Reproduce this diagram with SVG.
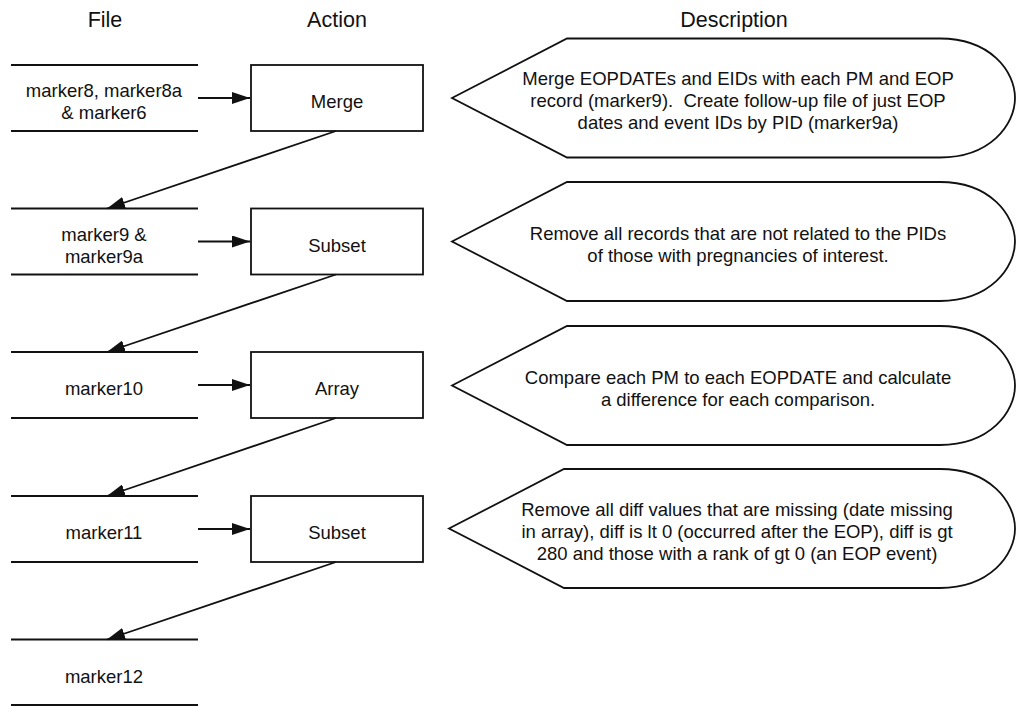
<svg xmlns="http://www.w3.org/2000/svg" width="1016" height="706" viewBox="0 0 1016 706">
  <style>
    .t { font-family: "Liberation Sans", Arial, Helvetica, sans-serif; font-size: 18.5px; fill: #111; text-anchor: middle; }
    .h { font-family: "Liberation Sans", Arial, Helvetica, sans-serif; font-size: 21.5px; fill: #111; text-anchor: middle; }
    .ln { stroke: #111; stroke-width: 1.8; fill: none; }
    .box { stroke: #111; stroke-width: 1.8; fill: #fff; }
  </style>
  <defs>
    <marker id="arrow" markerUnits="userSpaceOnUse" markerWidth="19" markerHeight="12" refX="18" refY="6" orient="auto">
      <path d="M0,0 L18,6 L0,12 z" fill="#111"/>
    </marker>
  </defs>
  <rect width="1016" height="706" fill="#fff"/>

  <!-- column headings -->
  <g id="headings">
    <text class="h" x="105" y="27">File</text>
    <text class="h" x="337" y="27">Action</text>
    <text class="h" x="734" y="27">Description</text>
  </g>

  <!-- data files (open-ended store symbols) -->
  <g id="file-marker8">
    <path class="ln" d="M11,65 H198 M11,131 H198"/>
    <text class="t" x="104" y="97">marker8, marker8a</text>
    <text class="t" x="104" y="119">&amp; marker6</text>
  </g>
  <g id="file-marker9">
    <path class="ln" d="M11,208.5 H198 M11,274.5 H198"/>
    <text class="t" x="104" y="240.5">marker9 &amp;</text>
    <text class="t" x="104" y="262.5">marker9a</text>
  </g>
  <g id="file-marker10">
    <path class="ln" d="M11,352 H198 M11,418 H198"/>
    <text class="t" x="104" y="395">marker10</text>
  </g>
  <g id="file-marker11">
    <path class="ln" d="M11,496 H198 M11,562 H198"/>
    <text class="t" x="104" y="539">marker11</text>
  </g>
  <g id="file-marker12">
    <path class="ln" d="M11,639.5 H198 M11,705 H198"/>
    <text class="t" x="104" y="682.5">marker12</text>
  </g>

  <!-- actions -->
  <g id="action-merge">
    <rect class="box" x="251" y="65" width="172" height="66"/>
    <text class="t" x="337" y="108">Merge</text>
  </g>
  <g id="action-subset1">
    <rect class="box" x="251" y="208.5" width="172" height="66"/>
    <text class="t" x="337" y="251.5">Subset</text>
  </g>
  <g id="action-array">
    <rect class="box" x="251" y="352" width="172" height="66"/>
    <text class="t" x="337" y="395">Array</text>
  </g>
  <g id="action-subset2">
    <rect class="box" x="251" y="496" width="172" height="66"/>
    <text class="t" x="337" y="539">Subset</text>
  </g>

  <!-- descriptions (display shapes) -->
  <g id="desc-merge">
    <path class="box" d="M452,98 L567,38.5 H940 C990,38.5 1015,71 1015,98 C1015,125 990,157.5 940,157.5 H567 Z"/>
    <text class="t" x="738" y="85">Merge EOPDATEs and EIDs with each PM and EOP</text>
    <text class="t" x="738" y="107" xml:space="preserve">record (marker9).  Create follow-up file of just EOP</text>
    <text class="t" x="738" y="129">dates and event IDs by PID (marker9a)</text>
  </g>
  <g id="desc-subset1">
    <path class="box" d="M452,241.5 L567,182 H940 C990,182 1015,215 1015,241.5 C1015,268 990,301 940,301 H567 Z"/>
    <text class="t" x="738" y="240">Remove all records that are not related to the PIDs</text>
    <text class="t" x="738" y="262">of those with pregnancies of interest.</text>
  </g>
  <g id="desc-array">
    <path class="box" d="M452,385.5 L567,326 H940 C990,326 1015,359 1015,385.5 C1015,412 990,445 940,445 H567 Z"/>
    <text class="t" x="738" y="384">Compare each PM to each EOPDATE and calculate</text>
    <text class="t" x="738" y="406">a difference for each comparison.</text>
  </g>
  <g id="desc-subset2">
    <path class="box" d="M449,528.5 L564,469 H940 C990,469 1015,502 1015,528.5 C1015,555 990,588 940,588 H564 Z"/>
    <text class="t" x="737" y="516">Remove all diff values that are missing (date missing</text>
    <text class="t" x="737" y="538">in array), diff is lt 0 (occurred after the EOP), diff is gt</text>
    <text class="t" x="737" y="560">280 and those with a rank of gt 0 (an EOP event)</text>
  </g>

  <!-- connectors -->
  <g id="connectors">
    <line class="ln" x1="198" y1="98" x2="250" y2="98" marker-end="url(#arrow)"/>
    <line class="ln" x1="198" y1="241.5" x2="250" y2="241.5" marker-end="url(#arrow)"/>
    <line class="ln" x1="198" y1="385" x2="250" y2="385" marker-end="url(#arrow)"/>
    <line class="ln" x1="198" y1="529" x2="250" y2="529" marker-end="url(#arrow)"/>
    <line class="ln" x1="336" y1="131" x2="107" y2="208.5" marker-end="url(#arrow)"/>
    <line class="ln" x1="336" y1="274.5" x2="107" y2="352" marker-end="url(#arrow)"/>
    <line class="ln" x1="336" y1="418" x2="107" y2="496" marker-end="url(#arrow)"/>
    <line class="ln" x1="336" y1="562" x2="107" y2="639.5" marker-end="url(#arrow)"/>
  </g>
</svg>
